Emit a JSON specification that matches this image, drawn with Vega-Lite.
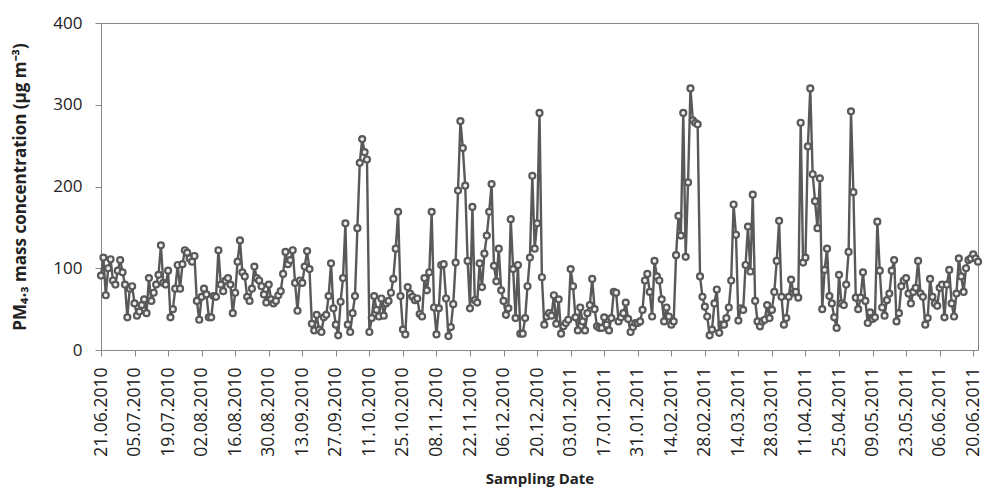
{
"$schema": "https://vega.github.io/schema/vega-lite/v6.json",
"width": 877, "height": 327,
"autosize": {"type": "none"},
"padding": {"left": 101, "top": 23, "right": 6, "bottom": 146},
"background": "white",
"config": {"view": {"stroke": "#868686", "strokeWidth": 1}, "font": "Open Sans"},
"data": {"values": [
{"date":"2010-06-21","pm":91},{"date":"2010-06-22","pm":113},{"date":"2010-06-23","pm":67},{"date":"2010-06-24","pm":100},{"date":"2010-06-25","pm":111},{"date":"2010-06-26","pm":85},{"date":"2010-06-27","pm":80},{"date":"2010-06-28","pm":97},{"date":"2010-06-29","pm":110},{"date":"2010-06-30","pm":95},
{"date":"2010-07-01","pm":80},{"date":"2010-07-02","pm":40},{"date":"2010-07-03","pm":75},{"date":"2010-07-04","pm":78},{"date":"2010-07-05","pm":57},{"date":"2010-07-06","pm":42},{"date":"2010-07-07","pm":47},{"date":"2010-07-08","pm":55},{"date":"2010-07-09","pm":62},{"date":"2010-07-10","pm":45},{"date":"2010-07-11","pm":88},{"date":"2010-07-12","pm":60},{"date":"2010-07-13","pm":70},{"date":"2010-07-14","pm":80},{"date":"2010-07-15","pm":92},{"date":"2010-07-16","pm":128},{"date":"2010-07-17","pm":82},{"date":"2010-07-18","pm":80},{"date":"2010-07-19","pm":97},{"date":"2010-07-20","pm":40},{"date":"2010-07-21","pm":50},{"date":"2010-07-22","pm":75},{"date":"2010-07-23","pm":104},{"date":"2010-07-24","pm":75},{"date":"2010-07-25","pm":105},{"date":"2010-07-26","pm":122},{"date":"2010-07-27","pm":119},{"date":"2010-07-28","pm":112},{"date":"2010-07-29","pm":108},{"date":"2010-07-30","pm":115},{"date":"2010-07-31","pm":60},
{"date":"2010-08-01","pm":37},{"date":"2010-08-02","pm":65},{"date":"2010-08-03","pm":75},{"date":"2010-08-04","pm":68},{"date":"2010-08-05","pm":40},{"date":"2010-08-06","pm":40},{"date":"2010-08-07","pm":66},{"date":"2010-08-08","pm":65},{"date":"2010-08-09","pm":122},{"date":"2010-08-10","pm":80},{"date":"2010-08-11","pm":72},{"date":"2010-08-12","pm":85},{"date":"2010-08-13","pm":88},{"date":"2010-08-14","pm":80},{"date":"2010-08-15","pm":45},{"date":"2010-08-16","pm":70},{"date":"2010-08-17","pm":108},{"date":"2010-08-18","pm":134},{"date":"2010-08-19","pm":95},{"date":"2010-08-20","pm":90},{"date":"2010-08-21","pm":65},{"date":"2010-08-22","pm":60},{"date":"2010-08-23","pm":75},{"date":"2010-08-24","pm":102},{"date":"2010-08-25","pm":88},{"date":"2010-08-26","pm":85},{"date":"2010-08-27","pm":78},{"date":"2010-08-28","pm":68},{"date":"2010-08-29","pm":58},{"date":"2010-08-30","pm":80},{"date":"2010-08-31","pm":62},
{"date":"2010-09-01","pm":57},{"date":"2010-09-02","pm":60},{"date":"2010-09-03","pm":67},{"date":"2010-09-04","pm":72},{"date":"2010-09-05","pm":93},{"date":"2010-09-06","pm":120},{"date":"2010-09-07","pm":105},{"date":"2010-09-08","pm":110},{"date":"2010-09-09","pm":122},{"date":"2010-09-10","pm":82},{"date":"2010-09-11","pm":48},{"date":"2010-09-12","pm":85},{"date":"2010-09-13","pm":82},{"date":"2010-09-14","pm":102},{"date":"2010-09-15","pm":121},{"date":"2010-09-16","pm":99},{"date":"2010-09-17","pm":32},{"date":"2010-09-18","pm":24},{"date":"2010-09-19","pm":43},{"date":"2010-09-20","pm":25},{"date":"2010-09-21","pm":22},{"date":"2010-09-22","pm":40},{"date":"2010-09-23","pm":43},{"date":"2010-09-24","pm":66},{"date":"2010-09-25","pm":106},{"date":"2010-09-26","pm":51},{"date":"2010-09-27","pm":31},{"date":"2010-09-28","pm":18},{"date":"2010-09-29","pm":59},{"date":"2010-09-30","pm":88},
{"date":"2010-10-01","pm":155},{"date":"2010-10-02","pm":31},{"date":"2010-10-03","pm":22},{"date":"2010-10-04","pm":45},{"date":"2010-10-05","pm":66},{"date":"2010-10-06","pm":149},{"date":"2010-10-07","pm":229},{"date":"2010-10-08","pm":258},{"date":"2010-10-09","pm":242},{"date":"2010-10-10","pm":233},{"date":"2010-10-11","pm":22},{"date":"2010-10-12","pm":39},{"date":"2010-10-13","pm":66},{"date":"2010-10-14","pm":49},{"date":"2010-10-15","pm":41},{"date":"2010-10-16","pm":63},{"date":"2010-10-17","pm":42},{"date":"2010-10-18","pm":57},{"date":"2010-10-19","pm":60},{"date":"2010-10-20","pm":70},{"date":"2010-10-21","pm":87},{"date":"2010-10-22","pm":124},{"date":"2010-10-23","pm":169},{"date":"2010-10-24","pm":66},{"date":"2010-10-25","pm":25},{"date":"2010-10-26","pm":19},{"date":"2010-10-27","pm":77},{"date":"2010-10-28","pm":69},{"date":"2010-10-29","pm":65},{"date":"2010-10-30","pm":61},{"date":"2010-10-31","pm":63},
{"date":"2010-11-01","pm":44},{"date":"2010-11-02","pm":41},{"date":"2010-11-03","pm":88},{"date":"2010-11-04","pm":73},{"date":"2010-11-05","pm":95},{"date":"2010-11-06","pm":169},{"date":"2010-11-07","pm":52},{"date":"2010-11-08","pm":19},{"date":"2010-11-09","pm":51},{"date":"2010-11-10","pm":104},{"date":"2010-11-11","pm":105},{"date":"2010-11-12","pm":63},{"date":"2010-11-13","pm":17},{"date":"2010-11-14","pm":28},{"date":"2010-11-15","pm":56},{"date":"2010-11-16","pm":107},{"date":"2010-11-17","pm":195},{"date":"2010-11-18","pm":280},{"date":"2010-11-19","pm":247},{"date":"2010-11-20","pm":201},{"date":"2010-11-21","pm":109},{"date":"2010-11-22","pm":51},{"date":"2010-11-23","pm":175},{"date":"2010-11-24","pm":61},{"date":"2010-11-25","pm":58},{"date":"2010-11-26","pm":106},{"date":"2010-11-27","pm":77},{"date":"2010-11-28","pm":118},{"date":"2010-11-29","pm":140},{"date":"2010-11-30","pm":169},
{"date":"2010-12-01","pm":203},{"date":"2010-12-02","pm":103},{"date":"2010-12-03","pm":84},{"date":"2010-12-04","pm":124},{"date":"2010-12-05","pm":73},{"date":"2010-12-06","pm":60},{"date":"2010-12-07","pm":43},{"date":"2010-12-08","pm":51},{"date":"2010-12-09","pm":160},{"date":"2010-12-10","pm":99},{"date":"2010-12-11","pm":39},{"date":"2010-12-12","pm":104},{"date":"2010-12-13","pm":20},{"date":"2010-12-14","pm":20},{"date":"2010-12-15","pm":39},{"date":"2010-12-16","pm":78},{"date":"2010-12-17","pm":113},{"date":"2010-12-18","pm":213},{"date":"2010-12-19","pm":124},{"date":"2010-12-20","pm":155},{"date":"2010-12-21","pm":290},{"date":"2010-12-22","pm":89},{"date":"2010-12-23","pm":31},{"date":"2010-12-24","pm":41},{"date":"2010-12-25","pm":45},{"date":"2010-12-26","pm":42},{"date":"2010-12-27","pm":67},{"date":"2010-12-28","pm":32},{"date":"2010-12-29","pm":62},{"date":"2010-12-30","pm":20},{"date":"2010-12-31","pm":29},
{"date":"2011-01-01","pm":33},{"date":"2011-01-02","pm":37},{"date":"2011-01-03","pm":99},{"date":"2011-01-04","pm":78},{"date":"2011-01-05","pm":40},{"date":"2011-01-06","pm":24},{"date":"2011-01-07","pm":52},{"date":"2011-01-08","pm":35},{"date":"2011-01-09","pm":24},{"date":"2011-01-10","pm":45},{"date":"2011-01-11","pm":55},{"date":"2011-01-12","pm":87},{"date":"2011-01-13","pm":50},{"date":"2011-01-14","pm":29},{"date":"2011-01-15","pm":27},{"date":"2011-01-16","pm":27},{"date":"2011-01-17","pm":40},{"date":"2011-01-18","pm":31},{"date":"2011-01-19","pm":24},{"date":"2011-01-20","pm":39},{"date":"2011-01-21","pm":71},{"date":"2011-01-22","pm":70},{"date":"2011-01-23","pm":35},{"date":"2011-01-24","pm":40},{"date":"2011-01-25","pm":45},{"date":"2011-01-26","pm":58},{"date":"2011-01-27","pm":38},{"date":"2011-01-28","pm":22},{"date":"2011-01-29","pm":28},{"date":"2011-01-30","pm":33},{"date":"2011-01-31","pm":33},
{"date":"2011-02-01","pm":35},{"date":"2011-02-02","pm":49},{"date":"2011-02-03","pm":85},{"date":"2011-02-04","pm":93},{"date":"2011-02-05","pm":71},{"date":"2011-02-06","pm":41},{"date":"2011-02-07","pm":109},{"date":"2011-02-08","pm":90},{"date":"2011-02-09","pm":85},{"date":"2011-02-10","pm":62},{"date":"2011-02-11","pm":35},{"date":"2011-02-12","pm":52},{"date":"2011-02-13","pm":41},{"date":"2011-02-14","pm":31},{"date":"2011-02-15","pm":35},{"date":"2011-02-16","pm":116},{"date":"2011-02-17","pm":164},{"date":"2011-02-18","pm":140},{"date":"2011-02-19","pm":290},{"date":"2011-02-20","pm":114},{"date":"2011-02-21","pm":205},{"date":"2011-02-22","pm":320},{"date":"2011-02-23","pm":281},{"date":"2011-02-24","pm":278},{"date":"2011-02-25","pm":276},{"date":"2011-02-26","pm":90},{"date":"2011-02-27","pm":65},{"date":"2011-02-28","pm":53},
{"date":"2011-03-01","pm":41},{"date":"2011-03-02","pm":18},{"date":"2011-03-03","pm":25},{"date":"2011-03-04","pm":57},{"date":"2011-03-05","pm":74},{"date":"2011-03-06","pm":21},{"date":"2011-03-07","pm":31},{"date":"2011-03-08","pm":31},{"date":"2011-03-09","pm":39},{"date":"2011-03-10","pm":52},{"date":"2011-03-11","pm":85},{"date":"2011-03-12","pm":178},{"date":"2011-03-13","pm":141},{"date":"2011-03-14","pm":36},{"date":"2011-03-15","pm":51},{"date":"2011-03-16","pm":49},{"date":"2011-03-17","pm":104},{"date":"2011-03-18","pm":151},{"date":"2011-03-19","pm":96},{"date":"2011-03-20","pm":190},{"date":"2011-03-21","pm":60},{"date":"2011-03-22","pm":35},{"date":"2011-03-23","pm":29},{"date":"2011-03-24","pm":35},{"date":"2011-03-25","pm":37},{"date":"2011-03-26","pm":55},{"date":"2011-03-27","pm":39},{"date":"2011-03-28","pm":49},{"date":"2011-03-29","pm":71},{"date":"2011-03-30","pm":109},{"date":"2011-03-31","pm":158},
{"date":"2011-04-01","pm":65},{"date":"2011-04-02","pm":31},{"date":"2011-04-03","pm":39},{"date":"2011-04-04","pm":65},{"date":"2011-04-05","pm":86},{"date":"2011-04-06","pm":70},{"date":"2011-04-07","pm":71},{"date":"2011-04-08","pm":64},{"date":"2011-04-09","pm":278},{"date":"2011-04-10","pm":107},{"date":"2011-04-11","pm":113},{"date":"2011-04-12","pm":249},{"date":"2011-04-13","pm":320},{"date":"2011-04-14","pm":215},{"date":"2011-04-15","pm":182},{"date":"2011-04-16","pm":149},{"date":"2011-04-17","pm":210},{"date":"2011-04-18","pm":50},{"date":"2011-04-19","pm":98},{"date":"2011-04-20","pm":124},{"date":"2011-04-21","pm":66},{"date":"2011-04-22","pm":57},{"date":"2011-04-23","pm":40},{"date":"2011-04-24","pm":27},{"date":"2011-04-25","pm":92},{"date":"2011-04-26","pm":57},{"date":"2011-04-27","pm":55},{"date":"2011-04-28","pm":80},{"date":"2011-04-29","pm":120},{"date":"2011-04-30","pm":292},
{"date":"2011-05-01","pm":193},{"date":"2011-05-02","pm":64},{"date":"2011-05-03","pm":50},{"date":"2011-05-04","pm":64},{"date":"2011-05-05","pm":95},{"date":"2011-05-06","pm":60},{"date":"2011-05-07","pm":33},{"date":"2011-05-08","pm":46},{"date":"2011-05-09","pm":38},{"date":"2011-05-10","pm":40},{"date":"2011-05-11","pm":157},{"date":"2011-05-12","pm":97},{"date":"2011-05-13","pm":52},{"date":"2011-05-14","pm":42},{"date":"2011-05-15","pm":61},{"date":"2011-05-16","pm":69},{"date":"2011-05-17","pm":97},{"date":"2011-05-18","pm":110},{"date":"2011-05-19","pm":35},{"date":"2011-05-20","pm":45},{"date":"2011-05-21","pm":78},{"date":"2011-05-22","pm":85},{"date":"2011-05-23","pm":88},{"date":"2011-05-24","pm":69},{"date":"2011-05-25","pm":57},{"date":"2011-05-26","pm":71},{"date":"2011-05-27","pm":76},{"date":"2011-05-28","pm":109},{"date":"2011-05-29","pm":69},{"date":"2011-05-30","pm":65},{"date":"2011-05-31","pm":31},
{"date":"2011-06-01","pm":39},{"date":"2011-06-02","pm":87},{"date":"2011-06-03","pm":65},{"date":"2011-06-04","pm":57},{"date":"2011-06-05","pm":54},{"date":"2011-06-06","pm":76},{"date":"2011-06-07","pm":80},{"date":"2011-06-08","pm":40},{"date":"2011-06-09","pm":80},{"date":"2011-06-10","pm":98},{"date":"2011-06-11","pm":57},{"date":"2011-06-12","pm":41},{"date":"2011-06-13","pm":69},{"date":"2011-06-14","pm":112},{"date":"2011-06-15","pm":90},{"date":"2011-06-16","pm":71},{"date":"2011-06-17","pm":100},{"date":"2011-06-18","pm":110},{"date":"2011-06-19","pm":112},{"date":"2011-06-20","pm":117},{"date":"2011-06-21","pm":112},{"date":"2011-06-22","pm":108}
]},
"encoding": {
  "x": {"field": "date", "type": "temporal",
    "scale": {"type": "utc", "domain": [{"year": 2010, "month": 6, "date": 21, "utc": true}, {"year": 2011, "month": 6, "date": 22, "utc": true}]},
    "axis": {
      "values": [
        {"year":2010,"month":6,"date":21,"utc":true},{"year":2010,"month":7,"date":5,"utc":true},{"year":2010,"month":7,"date":19,"utc":true},{"year":2010,"month":8,"date":2,"utc":true},{"year":2010,"month":8,"date":16,"utc":true},{"year":2010,"month":8,"date":30,"utc":true},{"year":2010,"month":9,"date":13,"utc":true},{"year":2010,"month":9,"date":27,"utc":true},{"year":2010,"month":10,"date":11,"utc":true},{"year":2010,"month":10,"date":25,"utc":true},{"year":2010,"month":11,"date":8,"utc":true},{"year":2010,"month":11,"date":22,"utc":true},{"year":2010,"month":12,"date":6,"utc":true},{"year":2010,"month":12,"date":20,"utc":true},{"year":2011,"month":1,"date":3,"utc":true},{"year":2011,"month":1,"date":17,"utc":true},{"year":2011,"month":1,"date":31,"utc":true},{"year":2011,"month":2,"date":14,"utc":true},{"year":2011,"month":2,"date":28,"utc":true},{"year":2011,"month":3,"date":14,"utc":true},{"year":2011,"month":3,"date":28,"utc":true},{"year":2011,"month":4,"date":11,"utc":true},{"year":2011,"month":4,"date":25,"utc":true},{"year":2011,"month":5,"date":9,"utc":true},{"year":2011,"month":5,"date":23,"utc":true},{"year":2011,"month":6,"date":6,"utc":true},{"year":2011,"month":6,"date":20,"utc":true}
      ],
      "labelExpr": "utcFormat(datum.value, '%d.%m.%Y')",
      "labelAngle": -90, "labelAlign": "right", "labelBaseline": "middle",
      "labelFont": "Open Sans", "labelFontSize": 17.5, "labelColor": "#222222", "labelPadding": 11,
      "labelOverlap": false, "labelFlush": false,
      "tickSize": 6, "tickColor": "#868686", "domainColor": "#868686", "grid": false,
      "title": "Sampling Date", "titleFont": "Open Sans", "titleFontWeight": "bold", "titleFontSize": 15, "titleColor": "#222222", "titlePadding": 15
    }
  },
  "y": {"field": "pm", "type": "quantitative",
    "scale": {"domain": [0, 400], "nice": false},
    "axis": {
      "values": [0, 100, 200, 300, 400],
      "labelFont": "Open Sans", "labelFontSize": 17, "labelColor": "#222222", "labelPadding": 13,
      "tickSize": 6, "tickColor": "#868686", "domainColor": "#868686", "grid": false,
      "title": "PM₄.₃ mass concentration (µg m⁻³)", "titleFont": "Open Sans", "titleFontWeight": "bold", "titleFontSize": 17, "titleColor": "#222222", "titlePadding": 23
    }
  }
},
"layer": [
  {"mark": {"type": "line", "color": "#595959", "strokeWidth": 2.4}},
  {"mark": {"type": "point", "shape": "circle", "filled": true, "fill": "#eeeeee", "stroke": "#595959", "strokeWidth": 2.2, "size": 36, "opacity": 1}}
]
}
